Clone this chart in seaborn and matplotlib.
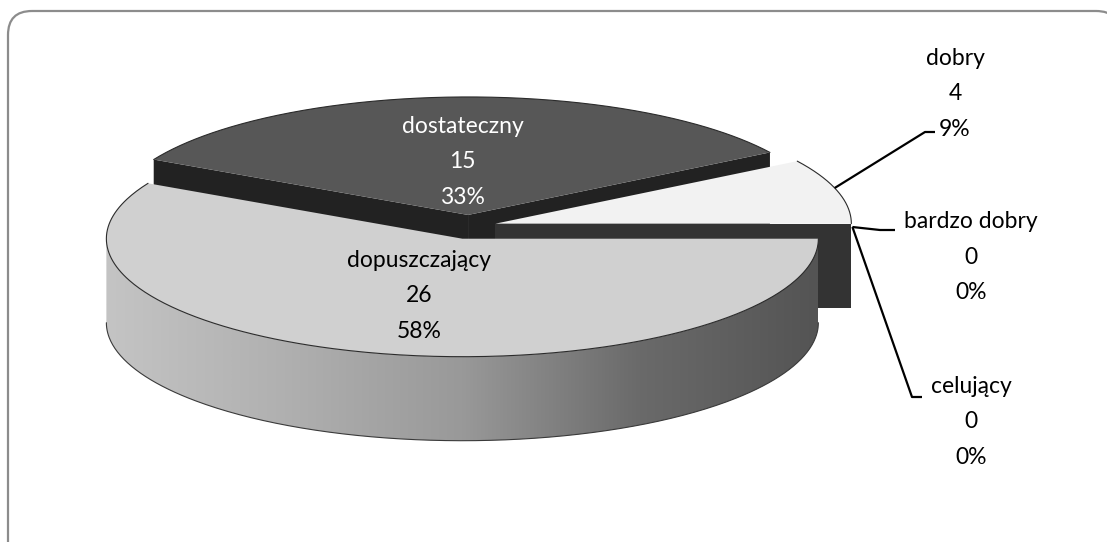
import numpy as np
import matplotlib.pyplot as plt
import matplotlib.patches as mpatches
import seaborn as sns


grades = ['dopuszczający', 'dostateczny', 'dobry', 'bardzo dobry', 'celujący']
counts = [26, 15, 4, 0, 0]

top_colors = ['#d0d0d0', '#575757', '#f2f2f2', '#333333', '#333333']
wall_colors = ['#555555', '#222222', '#333333', '#333333', '#333333']
label_colors = ['black', 'white', 'black', 'black', 'black']

sns.set_style('white')
plt.rcParams['font.family'] = ['Lato', 'DejaVu Sans']

# geometry of the fake 3d pie (pixels)
cx, cy = 469, 227
rx, ry = 356, 118
depth = 84
explode = 0.077
explode_y = 0.44

fig = plt.figure(figsize=(11.07, 5.42), dpi=100)
ax = fig.add_axes([0, 0, 1, 1])
ax.set_xlim(0, 1107)
ax.set_ylim(542, 0)
ax.axis('off')

frame = mpatches.FancyBboxPatch((8, 11), 1112, 580, boxstyle='round,pad=0,rounding_size=24',
                                fc='none', ec='#8c8c8c', lw=1.6, zorder=0)
ax.add_patch(frame)

total = sum(counts)
shares = [c / total for c in counts]

# slices go clockwise from 3 o'clock
slices = []
start = 360.0
for i, s in enumerate(shares):
    hi = start
    lo = start - 360 * s
    start = lo
    mid = np.radians((lo + hi) / 2)
    ox = cx + explode * rx * np.cos(mid)
    oy = cy - explode * rx * explode_y * np.sin(mid)
    slices.append(dict(i=i, lo=lo, hi=hi, ox=ox, oy=oy))


def rim(ox, oy, a):
    a = np.radians(a)
    return ox + rx * np.cos(a), oy - ry * np.sin(a)


side_pal = sns.blend_palette(['#c4c4c4', '#b0b0b0', '#999999', '#6a6a6a', '#545454'], 256)
side_img = np.array(side_pal)[np.newaxis, :, :]

z = 1
for sl in sorted(slices, key=lambda d: d['oy']):
    i, lo, hi, ox, oy = sl['i'], sl['lo'], sl['hi'], sl['ox'], sl['oy']
    if counts[i] == 0:
        continue
    # radial faces
    for a, visible in ((lo, np.cos(np.radians(lo)) > 0), (hi, np.cos(np.radians(hi)) < 0)):
        if visible:
            rx_, ry_ = rim(ox, oy, a)
            face = mpatches.Polygon([(ox, oy), (rx_, ry_), (rx_, ry_ + depth), (ox, oy + depth)],
                                    closed=True, fc=wall_colors[i], ec='none', zorder=z)
            ax.add_patch(face)
            z += 1
    # outer wall (front half only)
    a0, a1 = max(lo, 180), min(hi, 360)
    if a1 > a0:
        ang = np.linspace(a0, a1, 300)
        xs, ys = rim(ox, oy, ang)
        pts = np.vstack([np.column_stack([xs, ys]), np.column_stack([xs[::-1], ys[::-1] + depth])])
        wall = mpatches.Polygon(pts, closed=True, fc='none', ec='none', zorder=z)
        ax.add_patch(wall)
        im = ax.imshow(side_img, extent=(xs.min(), xs.max(), ys.max() + depth, ys.min()),
                       aspect='auto', zorder=z, interpolation='bilinear')
        im.set_clip_path(wall)
        ax.plot(xs, ys + depth, color='#3a3a3a', lw=0.8, zorder=z + 0.5)
        z += 1
    # top surface
    ang = np.linspace(lo, hi, 300)
    xs, ys = rim(ox, oy, ang)
    top = mpatches.Polygon(np.vstack([[ox, oy], np.column_stack([xs, ys])]), closed=True,
                           fc=top_colors[i], ec='none', zorder=z)
    ax.add_patch(top)
    ax.plot(xs, ys, color='#2b2b2b', lw=0.8, zorder=z + 0.5)
    z += 1

label_kw = dict(ha='center', va='center', fontsize=16.5, linespacing=1.85)

# data labels inside the two big slices
inside_r = [0.5, 0.45]
for sl in slices:
    i = sl['i']
    pct = round(shares[i] * 100)
    txt = f"{grades[i]}\n{counts[i]}\n{pct}%"
    if i < 2:
        mid = (sl['lo'] + sl['hi']) / 2
        r = inside_r[i]
        lx = sl['ox'] + r * rx * np.cos(np.radians(mid))
        ly = sl['oy'] - r * ry * np.sin(np.radians(mid))
        ax.text(lx, ly, txt, color=label_colors[i], zorder=50, **label_kw)

# outside labels with leader lines
outside = {
    2: dict(pos=(955, 94), path=[(925, 132), (935, 132)]),
    3: dict(pos=(971, 257), path=[(880, 230), (895, 230)]),
    4: dict(pos=(971, 422), path=[(912, 397), (922, 397)]),
}
for i, spec in outside.items():
    sl = slices[i]
    mid = (sl['lo'] + sl['hi']) / 2
    sx, sy = rim(sl['ox'], sl['oy'], mid * 1.1)
    px = [sx] + [p[0] for p in spec['path']]
    py = [sy] + [p[1] for p in spec['path']]
    ax.plot(px, py, color='black', lw=1.6, zorder=60, solid_capstyle='butt')
    pct = round(shares[i] * 100)
    ax.text(spec['pos'][0], spec['pos'][1], f"{grades[i]}\n{counts[i]}\n{pct}%",
            color=label_colors[i], zorder=60, **label_kw)

fig.savefig('out.png', dpi=100)
